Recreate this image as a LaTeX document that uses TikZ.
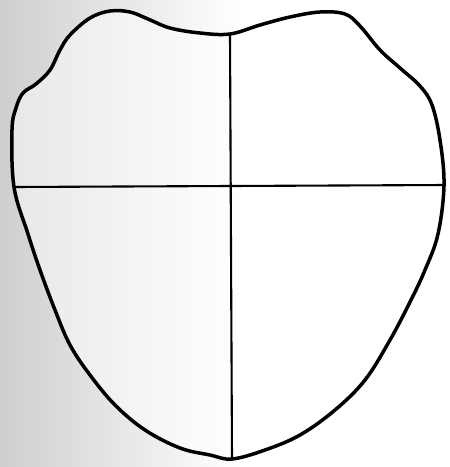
\documentclass[tikz,border=0pt]{standalone}
\usepackage{tikz}

\begin{document}
\begin{tikzpicture}[x=1pt,y=-1pt,
    outline/.style={line width=3.5pt, line join=round},
    crossline/.style={line width=2.1pt}]
    % scan background: grey on the left, fading to white
    \useasboundingbox (0,0) rectangle (450,467);
    \shade[left color=black!19, right color=white] (0,0) rectangle (240,467);
    \fill[white] (240,0) rectangle (450,467);

    % end points of the cross
    \coordinate (top)    at (230,34);
    \coordinate (bottom) at (232,459);
    \coordinate (left)   at (14,187);
    \coordinate (right)  at (446,185);

    % the shield
    \fill[white, opacity=0.5] plot[smooth cycle, tension=0.6] coordinates {
      (230,34) (260,25) (290,17) (320,12) (345,14) (360,26) (380,50) (400,68)
      (420,86) (432,105) (440,140) (444,185) (438,234) (425,270) (410,302)
      (390,340) (365,380) (335,410) (300,435) (265,450) (232,459) (210,455)
      (180,448) (145,430) (115,405) (90,375) (70,345) (55,310) (40,270)
      (28,234) (14,187) (12,130) (16,108) (23,93) (36,84) (50,70) (60,50)
      (70,35) (90,18) (110,11) (130,12) (148,19) (170,28) (200,33)};
    \draw[outline] plot[smooth cycle, tension=0.6] coordinates {
      (230,34) (260,25) (290,17) (320,12) (345,14) (360,26) (380,50) (400,68)
      (420,86) (432,105) (440,140) (444,185) (438,234) (425,270) (410,302)
      (390,340) (365,380) (335,410) (300,435) (265,450) (232,459) (210,455)
      (180,448) (145,430) (115,405) (90,375) (70,345) (55,310) (40,270)
      (28,234) (14,187) (12,130) (16,108) (23,93) (36,84) (50,70) (60,50)
      (70,35) (90,18) (110,11) (130,12) (148,19) (170,28) (200,33)};

    % the cross
    \draw[crossline] (top) -- (bottom);
    \draw[crossline] (left) -- (right);
\end{tikzpicture}
\end{document}
